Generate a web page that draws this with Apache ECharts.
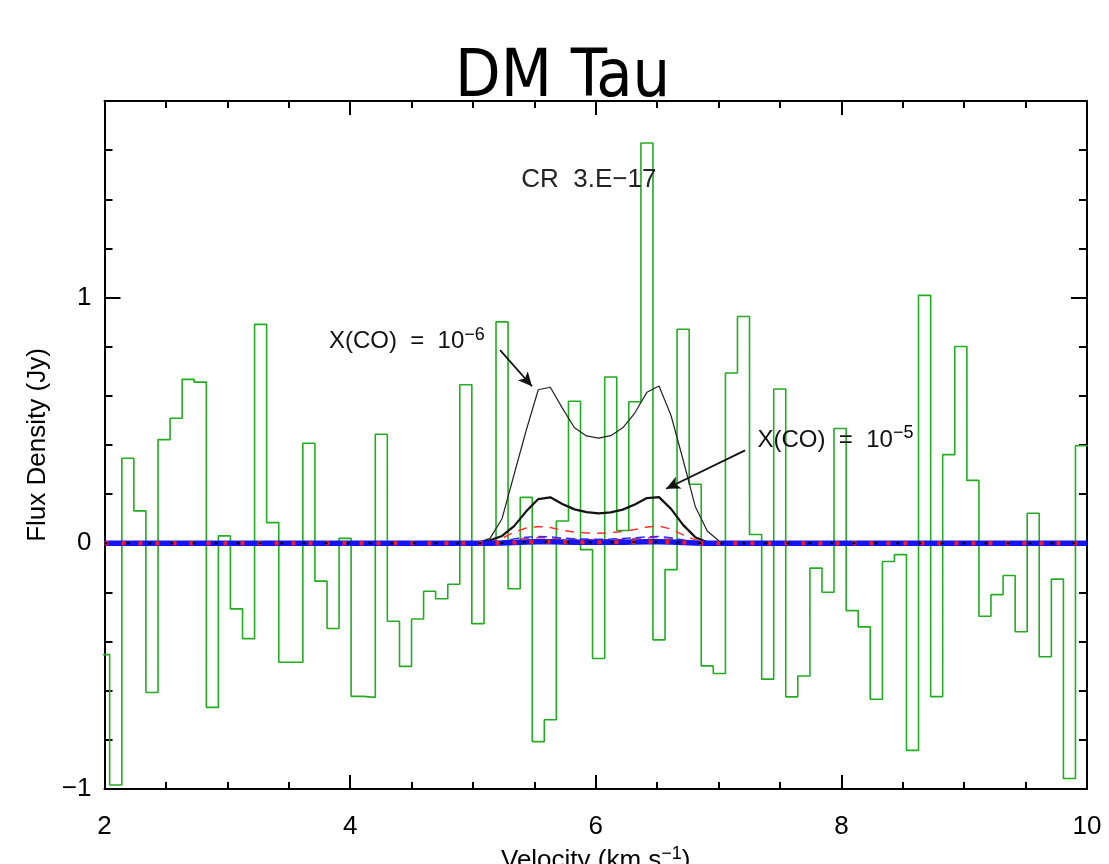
<!DOCTYPE html>
<html>
<head>
<meta charset="utf-8">
<title>DM Tau</title>
<script src="https://cdn.jsdelivr.net/npm/echarts@6/dist/echarts.min.js"></script>
<style>
  html, body { margin: 0; padding: 0; background: #fff; }
  #chart { width: 1109px; height: 864px; }
</style>
</head>
<body>
<div id="chart"></div>
<script>
// observed spectrum: channel edges (km/s) and flux per channel (Jy)
const channelEdges = [
  1.944, 2.042, 2.141, 2.239, 2.337, 2.436, 2.534, 2.632, 2.730, 2.829,
  2.927, 3.025, 3.124, 3.222, 3.320, 3.419, 3.517, 3.615, 3.713, 3.812,
  3.910, 4.008, 4.107, 4.205, 4.303, 4.402, 4.500, 4.598, 4.696, 4.795,
  4.893, 4.991, 5.090, 5.188, 5.286, 5.385, 5.483, 5.581, 5.679, 5.778,
  5.876, 5.974, 6.073, 6.171, 6.269, 6.368, 6.466, 6.564, 6.662, 6.761,
  6.859, 6.957, 7.056, 7.154, 7.252, 7.351, 7.449, 7.547, 7.645, 7.744,
  7.842, 7.940, 8.039, 8.137, 8.235, 8.334, 8.432, 8.530, 8.628, 8.727,
  8.825, 8.923, 9.022, 9.120, 9.218, 9.317, 9.415, 9.513, 9.611, 9.710,
  9.808, 9.906, 10.005
]
const fluxObs = [
  -0.453, -0.984, 0.346, 0.132, -0.607, 0.422, 0.509, 0.667, 0.656, -0.668,
  0.030, -0.267, -0.388, 0.891, 0.084, -0.484, -0.484, 0.407, -0.154, -0.347,
  0.020, -0.623, -0.627, 0.444, -0.317, -0.501, -0.308, -0.195, -0.226, -0.167,
  0.645, -0.327, 0.010, 0.901, -0.185, 0.187, -0.807, -0.718, 0.091, 0.578,
  -0.026, -0.469, 0.677, 0.052, 0.576, 1.629, -0.393, -0.107, 0.871, 0.240,
  -0.499, -0.530, 0.693, 0.923, 0.036, -0.553, 0.628, -0.625, -0.540, -0.101,
  -0.199, 0.467, -0.274, -0.340, -0.635, -0.074, -0.046, -0.843, 1.009, -0.624,
  0.361, 0.801, 0.256, -0.297, -0.209, -0.131, -0.360, 0.122, -0.462, -0.146,
  -0.957, 0.397
]

// model spectra
const modelVel = [
  2.0, 4.943, 5.041, 5.139, 5.237, 5.335, 5.434, 5.532, 5.630, 5.728,
  5.827, 5.925, 6.023, 6.122, 6.220, 6.318, 6.417, 6.515, 6.613, 6.711,
  6.810, 6.908, 7.006, 7.104, 10.0
]
const fluxCO6 = [0, 0, 0.003, 0.02, 0.10, 0.28, 0.46, 0.625, 0.635, 0.55, 0.47, 0.437, 0.428, 0.438, 0.47, 0.53, 0.615, 0.64, 0.52, 0.34, 0.15, 0.05, 0.008, 0, 0]
const fluxCO5 = [0, 0, 0.002, 0.012, 0.03, 0.07, 0.13, 0.18, 0.187, 0.16, 0.138, 0.127, 0.122, 0.126, 0.137, 0.158, 0.184, 0.188, 0.14, 0.075, 0.025, 0.004, 0, 0, 0]
const fluxRedA = [0, 0, 0, 0.005, 0.02, 0.045, 0.062, 0.068, 0.064, 0.053, 0.046, 0.042, 0.041, 0.043, 0.048, 0.056, 0.066, 0.07, 0.058, 0.034, 0.014, 0.004, 0, 0, 0]
const fluxRedB = [0, 0, 0, 0.002, 0.007, 0.015, 0.021, 0.023, 0.022, 0.018, 0.016, 0.014, 0.014, 0.015, 0.016, 0.019, 0.022, 0.024, 0.02, 0.012, 0.005, 0.001, 0, 0, 0]
const fluxBlueA = [0, 0, 0, 0.002, 0.008, 0.018, 0.025, 0.028, 0.026, 0.021, 0.018, 0.017, 0.016, 0.017, 0.019, 0.022, 0.026, 0.028, 0.023, 0.013, 0.005, 0.001, 0, 0, 0]
const fluxLow = [0, 0, 0, 0, 0.001, 0.003, 0.005, 0.006, 0.006, 0.005, 0.004, 0.004, 0.004, 0.004, 0.004, 0.005, 0.006, 0.006, 0.005, 0.003, 0.001, 0, 0, 0, 0]

const xTicks = [2, 4, 6, 8, 10]
const yTicks = [-1, 0, 1]

const FONT = '"Liberation Sans", Arial, sans-serif'

// histogram: horizontal at each channel value between its edges
const obsData = fluxObs.map((v, i) => [channelEdges[i], v])
obsData.push([channelEdges[fluxObs.length], fluxObs[fluxObs.length - 1]])

const pair = (ys) => modelVel.map((v, i) => [v, ys[i]])

const chart = echarts.init(document.getElementById('chart'))

function xAxis(position, labels) {
  return {
    type: 'value',
    position: position,
    min: 2,
    max: 10,
    interval: 2,
    axisLine: { show: true, onZero: false, lineStyle: { color: '#000', width: 2 } },
    axisTick: { show: true, inside: true, length: 14, lineStyle: { color: '#000', width: 2 } },
    minorTick: { show: true, splitNumber: 4, length: 7, lineStyle: { color: '#000', width: 2 } },
    splitLine: { show: false },
    axisLabel: {
      show: labels,
      margin: 25,
      color: '#000',
      fontSize: 26,
      fontFamily: FONT,
      formatter: (v) => xTicks.indexOf(v) >= 0 ? String(v) : ''
    },
    name: labels ? 'Velocity (km.s{sup|−1})' : '',
    nameLocation: 'middle',
    nameGap: 56,
    nameTextStyle: {
      color: '#000',
      fontSize: 26,
      fontFamily: FONT,
      rich: { sup: { fontSize: 18, fontFamily: FONT, color: '#000', verticalAlign: 'bottom', padding: [0, 0, 14, 0] } }
    }
  }
}

function yAxis(position, step, tickLen, main, labels) {
  return {
    type: 'value',
    position: position,
    min: -1,
    max: 1.8,
    interval: step,
    axisLine: { show: main, onZero: false, lineStyle: { color: '#000', width: 2 } },
    axisTick: { show: true, inside: true, length: tickLen, lineStyle: { color: '#000', width: 2 } },
    splitLine: { show: false },
    axisLabel: {
      show: labels,
      margin: 13,
      color: '#000',
      fontSize: 26,
      fontFamily: FONT,
      formatter: (v) => {
        const r = Math.round(v)
        if (Math.abs(v - r) > 1e-6 || yTicks.indexOf(r) < 0) return ''
        return r < 0 ? '−' + Math.abs(r) : String(r)
      }
    },
    name: labels ? 'Flux Density (Jy)' : '',
    nameLocation: 'middle',
    nameRotate: 90,
    nameGap: 45,
    nameTextStyle: { color: '#000', fontSize: 26, fontFamily: FONT }
  }
}

const supRich = { sup: { fontSize: 18, fontFamily: FONT, color: '#000', verticalAlign: 'bottom', padding: [0, 0, 14, 0] } }

chart.setOption({
  backgroundColor: '#fff',
  animation: false,
  title: {
    text: 'DM Tau',
    left: 450,
    top: 41,
    textStyle: {
      fontSize: 66,
      fontWeight: 'normal',
      color: '#000',
      fontFamily: '"DejaVu Sans Condensed", "Liberation Sans Narrow", "DejaVu Sans", sans-serif'
    }
  },
  grid: { left: 104.5, right: 22, top: 101, bottom: 75, containLabel: false, outerBoundsMode: 'none' },
  xAxis: [xAxis('bottom', true), xAxis('top', false)],
  yAxis: [
    yAxis('left', 0.2, 8, true, true),
    yAxis('left', 1, 16, false, false),
    yAxis('right', 0.2, 8, true, false),
    yAxis('right', 1, 16, false, false)
  ],
  series: [
    {
      name: 'observed',
      type: 'line',
      step: 'end',
      showSymbol: false,
      lineStyle: { color: '#22ad22', width: 1.6 },
      data: obsData,
      z: 2
    },
    {
      name: 'X(CO)=1e-6',
      type: 'line',
      showSymbol: false,
      lineStyle: { color: '#222', width: 1.2 },
      data: pair(fluxCO6),
      z: 3,
      markLine: {
        silent: true,
        symbol: ['none', 'arrow'],
        symbolSize: [10, 14],
        lineStyle: { color: '#111', width: 1.8, type: 'solid' },
        label: { show: false },
        data: [
          [{ coord: [5.221, 0.786] }, { coord: [5.481, 0.639] }],
          [{ coord: [7.216, 0.378] }, { coord: [6.573, 0.222] }]
        ]
      },
      markPoint: {
        silent: true,
        symbol: 'circle',
        symbolSize: 1,
        itemStyle: { color: 'rgba(0,0,0,0)' },
        data: [
          {
            coord: [3.823, 0.82],
            label: {
              show: true, position: 'right', distance: 0, color: '#111',
              fontSize: 24, fontFamily: FONT,
              formatter: 'X(CO)  =  10{sup|−6}', rich: supRich
            }
          },
          {
            coord: [7.313, 0.42],
            label: {
              show: true, position: 'right', distance: 0, color: '#111',
              fontSize: 24, fontFamily: FONT,
              formatter: 'X(CO)  =  10{sup|−5}', rich: supRich
            }
          },
          {
            coord: [5.39, 1.48],
            label: {
              show: true, position: 'right', distance: 0, color: '#222',
              fontSize: 26, fontFamily: FONT,
              formatter: 'CR  3.E−17'
            }
          }
        ]
      }
    },
    {
      name: 'X(CO)=1e-5',
      type: 'line',
      showSymbol: false,
      lineStyle: { color: '#111', width: 2.2 },
      data: pair(fluxCO5),
      z: 3
    },
    {
      name: 'red A',
      type: 'line',
      showSymbol: false,
      lineStyle: { color: '#ff3030', width: 1.5, type: [9, 7] },
      data: pair(fluxRedA),
      z: 3
    },
    {
      name: 'red B',
      type: 'line',
      showSymbol: false,
      lineStyle: { color: '#ff3030', width: 1.5, type: [9, 7] },
      data: pair(fluxRedB),
      z: 3
    },
    {
      name: 'blue A',
      type: 'line',
      showSymbol: false,
      lineStyle: { color: '#3030ff', width: 1.5, type: [9, 5] },
      data: pair(fluxBlueA),
      z: 3
    },
    {
      name: 'blue low',
      type: 'line',
      showSymbol: false,
      lineStyle: { color: '#1414f0', width: 5.5 },
      data: pair(fluxLow),
      z: 4
    },
    {
      name: 'red low',
      type: 'line',
      showSymbol: false,
      lineStyle: { color: '#ff1a1a', width: 4, type: [4, 13] },
      data: pair(fluxLow),
      z: 5
    },
    {
      name: 'black low',
      type: 'line',
      showSymbol: false,
      lineStyle: { color: '#000', width: 2, type: [3, 19] },
      data: pair(fluxLow),
      z: 5
    }
  ]
})
</script>
</body>
</html>
